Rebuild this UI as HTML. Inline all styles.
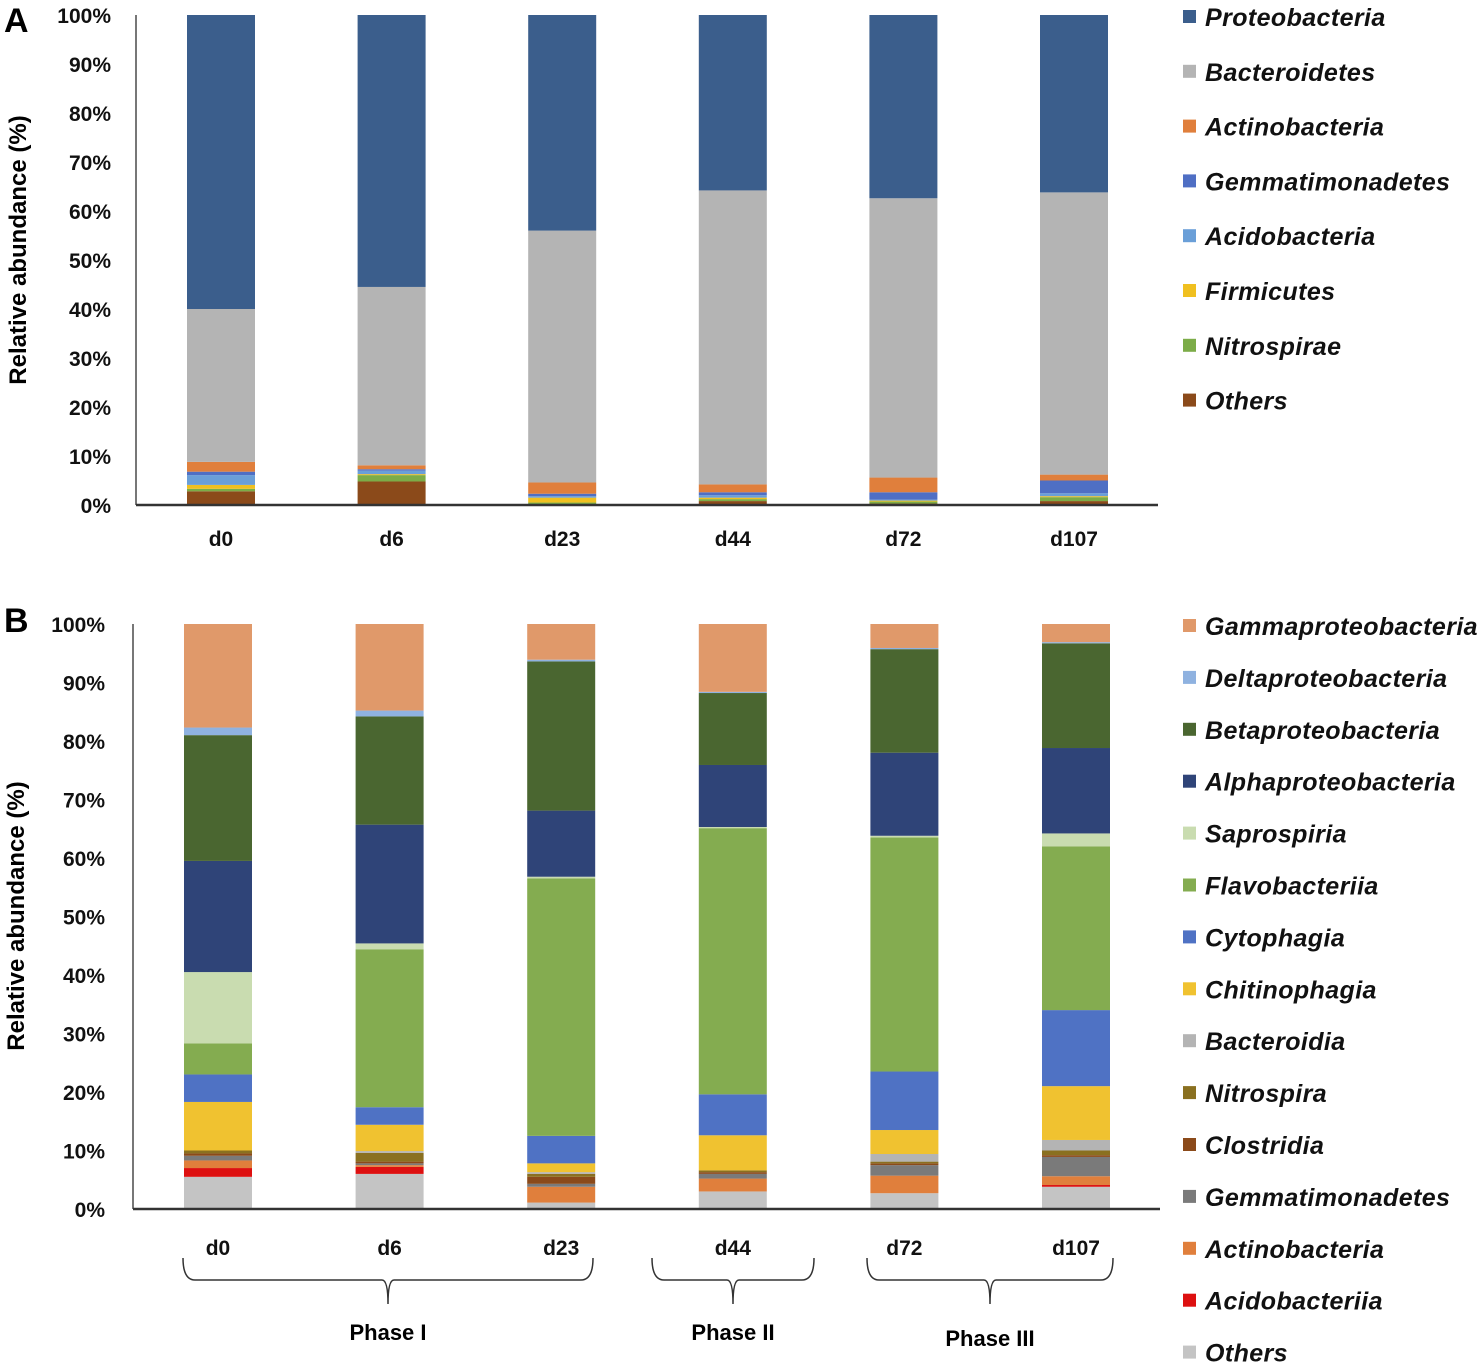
<!DOCTYPE html>
<html><head><meta charset="utf-8">
<style>
body{margin:0;background:#fff;}
svg{display:block;font-family:"Liberation Sans",sans-serif;}
.tick{font-size:21px;font-weight:bold;fill:#111;}
.leg{font-size:25px;font-weight:bold;font-style:italic;fill:#111;letter-spacing:0.4px;}
</style></head>
<body>
<svg id="c" width="1484" height="1364" viewBox="0 0 1484 1364">
<text x="4" y="32" font-size="34" font-weight="bold">A</text>
<text x="4" y="632" font-size="34" font-weight="bold">B</text>
<text transform="translate(26,250) rotate(-90)" text-anchor="middle" font-size="24" font-weight="bold">Relative abundance (%)</text>
<text transform="translate(24,916) rotate(-90)" text-anchor="middle" font-size="24" font-weight="bold">Relative abundance (%)</text>
</svg>
<script>
const categories=["d0","d6","d23","d44","d72","d107"];
const seriesA=["Others","Nitrospirae","Firmicutes","Acidobacteria","Gemmatimonadetes","Actinobacteria","Bacteroidetes","Proteobacteria"];
const colorsA=["#8b4a1a","#7cac48","#f0c020","#6a9fd8","#4f6fc4","#e07f3c","#b4b4b4","#3b5e8c"];
const valuesA=[
 [2.8,4.8,0.2,0.8,0.3,0.8],
 [0.5,1.3,0.3,0.4,0.4,0.8],
 [0.8,0.2,1.0,0.3,0.2,0.2],
 [2.0,0.7,0.3,0.5,0.2,0.6],
 [0.7,0.3,0.5,0.6,1.5,2.6],
 [2.0,0.8,2.3,1.6,3.0,1.2],
 [31.2,36.4,51.4,60.0,57.0,57.6],
 [60.0,55.5,44.0,35.8,37.4,36.2]
];
const seriesB=["Others","Acidobacteriia","Actinobacteria","Gemmatimonadetes","Clostridia","Nitrospira","Bacteroidia","Chitinophagia","Cytophagia","Flavobacteriia","Saprospiria","Alphaproteobacteria","Betaproteobacteria","Deltaproteobacteria","Gammaproteobacteria"];
const colorsB=["#c4c4c4","#dd1010","#e07f3c","#7a7a7a","#8b4a1a","#8a7020","#b4b4b4","#f0c230","#4f72c4","#84ac50","#c9dcb0","#2f4478","#4a6630","#8fb2e0","#e0996a"];
const valuesB=[
 [5.5,6.0,1.1,3.0,2.7,3.8],
 [1.5,1.2,0.0,0.0,0.0,0.3],
 [1.3,0.3,2.7,2.2,3.0,1.5],
 [0.8,0.3,0.5,0.8,1.8,3.3],
 [0.4,0.3,1.2,0.3,0.3,0.3],
 [0.5,1.5,0.5,0.3,0.3,0.8],
 [0.0,0.3,0.3,0.0,1.3,1.8],
 [8.3,4.5,1.5,6.0,4.1,9.2],
 [4.7,3.0,4.7,7.0,10.0,13.0],
 [5.3,27.0,44.0,45.5,40.0,28.0],
 [12.2,1.0,0.3,0.2,0.3,2.2],
 [19.0,20.3,11.3,10.6,14.2,14.6],
 [21.5,18.5,25.5,12.3,17.7,17.9],
 [1.3,1.0,0.3,0.2,0.2,0.2],
 [17.7,14.8,6.1,11.6,4.1,3.1]
];
const ticks=["0%","10%","20%","30%","40%","50%","60%","70%","80%","90%","100%"];
const NS="http://www.w3.org/2000/svg";
const svg=document.getElementById('c');
function mk(tag,attrs,parent){const e=document.createElementNS(NS,tag);for(const k in attrs)e.setAttribute(k,attrs[k]);(parent||svg).appendChild(e);return e;}
function panel(p){
 const y=v=>p.y0-(v/100)*(p.y0-p.y100);
 const x=i=>p.xc0+i*p.dx;
 const g=mk('g',{});
 
 
 ticks.forEach((t,i)=>{const tx=mk('text',{x:p.tickX,y:y(i*10)+8,'text-anchor':'end','class':'tick'},g);tx.textContent=t;
  
  });
 categories.forEach((c,i)=>{let acc=0;
  p.vals.forEach((row,s)=>{const v=row[i];const r=mk('rect',{x:x(i)-p.bw/2,y:y(acc+v),width:p.bw,height:Math.max(0,y(acc)-y(acc+v)),fill:p.colors[s]},g);
   
   
   acc+=v;});
  const t=mk('text',{x:x(i),y:p.catY,'text-anchor':'middle','class':'tick','font-size':'24'},g);t.textContent=c;
  
  
 });
 const ya=mk('line',{x1:p.axX,x2:p.axX,y1:p.y100,y2:p.y0,stroke:'#777','stroke-width':2},g);
 
 
 const xa=mk('line',{x1:p.axX,x2:p.axEnd,y1:p.y0,y2:p.y0,stroke:'#333','stroke-width':2.5},g);
 
 
 for(let s=p.series.length-1,k=0;s>=0;s--,k++){const ly=p.legY+k*p.legDy;
  const r=mk('rect',{x:1183,y:ly-7,width:13,height:13,fill:p.colors[s]},g);
  
  
  const t=mk('text',{x:1205,y:ly+9,'class':'leg'},g);t.textContent=p.series[s];
  
  }
}
panel({name:'panel-a',vals:valuesA,colors:colorsA,series:seriesA,y0:505,y100:15,xc0:221,dx:170.6,bw:68,tickX:111,axX:136,axEnd:1158,catY:546,legY:17,legDy:54.8});
panel({name:'panel-b',vals:valuesB,colors:colorsB,series:seriesB,y0:1209,y100:624,xc0:218,dx:171.6,bw:68,tickX:105,axX:133,axEnd:1160,catY:1255,legY:626,legDy:51.9});
function brace(x1,x2,label,ly){const m=(x1+x2)/2,t=1258,b=1282;
 const p=mk('path',{d:`M${x1} ${t} Q${x1} ${b-2} ${x1+12} ${b-2} L${m-6} ${b-2} Q${m} ${b-2} ${m} ${b+22} Q${m} ${b-2} ${m+6} ${b-2} L${x2-12} ${b-2} Q${x2} ${b-2} ${x2} ${t}`,fill:'none',stroke:'#333','stroke-width':1.5});
 
 
 const tx=mk('text',{x:m,y:ly,'text-anchor':'middle','font-size':'22','font-weight':'bold'});tx.textContent=label;
 
 }
brace(183,593,'Phase I',1340);
brace(652,814,'Phase II',1340);
brace(867,1113,'Phase III',1346);
</script>
</body></html>
